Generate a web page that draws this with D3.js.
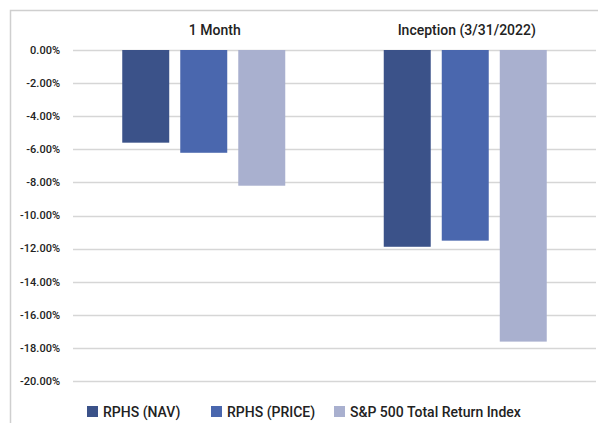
<!DOCTYPE html>
<html>
<head>
<meta charset="utf-8">
<script src="https://cdn.jsdelivr.net/npm/d3@7"></script>
<style>
  body { margin: 0; background: #fff; }
  svg text { font-family: Roboto, "Noto Sans", sans-serif; fill: #222; }
</style>
</head>
<body>
<div id="chart"></div>
<script>
// periods and series, values in percent
const periods = ["1 Month", "Inception (3/31/2022)"];
const series = ["RPHS (NAV)", "RPHS (PRICE)", "S&P 500 Total Return Index"];
const colors = ["#3b5289", "#4a67ae", "#a9b0cf"];
const navValues = [-5.60, -11.89];
const priceValues = [-6.21, -11.52];
const spValues = [-8.20, -17.62];
const yTicks = [0, -2, -4, -6, -8, -10, -12, -14, -16, -18, -20];

const values = [navValues, priceValues, spValues];

let width = 598, height = 423;

let svg = d3.select("#chart")
    .append("svg")
    .attr("width", width)
    .attr("height", height);

// frame (top + left edges)
svg.append("path")
    .attr("d", "M10.5,423V10.5H598")
    .attr("fill", "none")
    .attr("stroke", "#cfcfcf")
    .attr("stroke-width", 1.5);

let y = d3.scaleLinear()
    .domain([0, -20])
    .range([50, 381]);

let x0 = d3.scaleBand()
    .domain(periods)
    .range([73, 596]);

let x1 = d3.scaleBand()
    .domain(series)
    .range([0, 163])
    .paddingInner(0.19);

// gridlines
svg.append("g")
    .selectAll("line")
    .data(yTicks)
    .enter().append("line")
    .attr("x1", 73)
    .attr("x2", 596)
    .attr("y1", d => Math.round(y(d)) + 0.5)
    .attr("y2", d => Math.round(y(d)) + 0.5)
    .attr("stroke", "#d6d6d6")
    .attr("stroke-width", 1.5);

// y labels
svg.append("g")
    .selectAll("text")
    .data(yTicks)
    .enter().append("text")
    .attr("x", 60)
    .attr("y", d => y(d))
    .attr("dy", "0.35em")
    .attr("text-anchor", "end")
    .attr("font-size", 11)
    .attr("font-weight", 500)
    .text(d => d.toFixed(2) + "%");

// groups
let groups = svg.append("g")
    .selectAll("g")
    .data(periods)
    .enter().append("g")
    .attr("transform", d => "translate(" + (x0(d) + (x0.bandwidth() - 163) / 2) + ",0)");

groups.selectAll("rect")
    .data((p, i) => series.map((s, j) => ({s: s, v: values[j][i], c: colors[j]})))
    .enter().append("rect")
    .attr("x", d => x1(d.s))
    .attr("y", y(0))
    .attr("width", x1.bandwidth())
    .attr("height", d => y(d.v) - y(0))
    .attr("fill", d => d.c);

// period titles (sit a little right of the group centre in the original)
let titleShift = [11, 1.5];
svg.append("g")
    .selectAll("text")
    .data(periods)
    .enter().append("text")
    .attr("x", (d, i) => x0(d) + x0.bandwidth() / 2 + titleShift[i])
    .attr("y", 35)
    .attr("text-anchor", "middle")
    .attr("font-size", 14)
    .attr("font-weight", 500)
    .text(d => d);

// legend
let legendX = [87, 211, 334];
let legend = svg.append("g")
    .selectAll("g")
    .data(series)
    .enter().append("g")
    .attr("transform", (d, i) => "translate(" + legendX[i] + ",406)");

legend.append("rect")
    .attr("width", 11)
    .attr("height", 11)
    .attr("fill", (d, i) => colors[i]);

legend.append("text")
    .attr("x", 16)
    .attr("y", 6)
    .attr("dy", "0.35em")
    .attr("font-size", 14)
    .attr("font-weight", 500)
    .text(d => d);
</script>
</body>
</html>
